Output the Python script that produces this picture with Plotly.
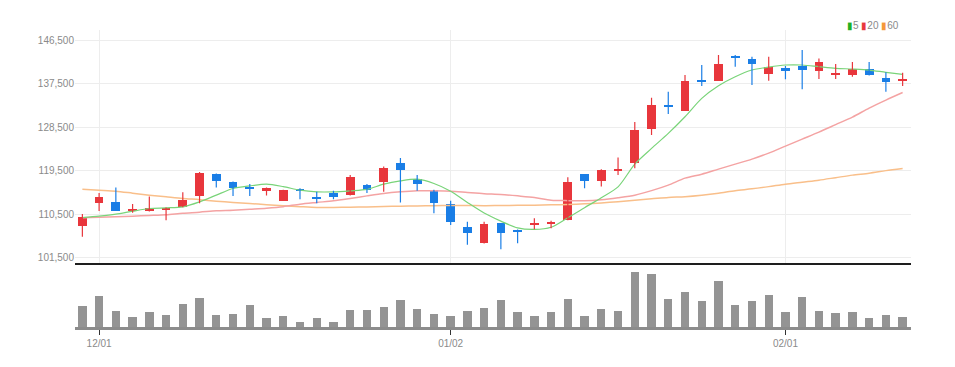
import plotly.graph_objects as go

dates = [
    "2022-11-30", "2022-12-01", "2022-12-02",
    "2022-12-05", "2022-12-06", "2022-12-07", "2022-12-08", "2022-12-09",
    "2022-12-12", "2022-12-13", "2022-12-14", "2022-12-15", "2022-12-16",
    "2022-12-19", "2022-12-20", "2022-12-21", "2022-12-22", "2022-12-23",
    "2022-12-26", "2022-12-27", "2022-12-28", "2022-12-29",
    "2023-01-02", "2023-01-03", "2023-01-04", "2023-01-05", "2023-01-06",
    "2023-01-09", "2023-01-10", "2023-01-11", "2023-01-12", "2023-01-13",
    "2023-01-16", "2023-01-17", "2023-01-18", "2023-01-19", "2023-01-20",
    "2023-01-25", "2023-01-26", "2023-01-27", "2023-01-30", "2023-01-31",
    "2023-02-01", "2023-02-02", "2023-02-03",
    "2023-02-06", "2023-02-07", "2023-02-08", "2023-02-09", "2023-02-10",
]

open_ = [108200, 112800, 113150, 111400, 111200, 111350, 112050, 114400, 118900, 117100,
         116250, 115400, 113350, 115850, 114200, 115000, 114550, 116600, 117300, 121100,
         117800, 115550, 112650, 107850, 104550, 108650, 107300, 108400, 108600, 109350,
         118800, 117500, 119500, 121100, 128250, 133200, 131950, 138300, 138150, 143250,
         142650, 139450, 140700, 141200, 140150, 139250, 139250, 140500, 138650, 138150]
high = [110600, 114900, 116050, 112650, 114200, 111950, 115100, 119250, 118950, 117300,
        116800, 116050, 115600, 115900, 115200, 115400, 118650, 116800, 120400, 122150,
        118650, 115600, 113300, 109000, 109000, 108700, 107350, 109700, 109200, 118200,
        118850, 119850, 122250, 129600, 134600, 135850, 139300, 141400, 143450, 143450,
        143100, 143100, 141200, 144500, 142750, 141600, 142000, 142000, 139900, 139800]
low = [105900, 111200, 111200, 110850, 111100, 109300, 112000, 112800, 116050, 114300,
       114300, 114400, 113300, 113650, 112800, 113650, 114400, 114900, 115200, 112950,
       115400, 110750, 108300, 104200, 104500, 103300, 104550, 107450, 107650, 109300,
       115900, 116250, 118650, 120050, 126900, 131250, 131900, 137050, 138100, 141050,
       137250, 138150, 138450, 136400, 138500, 138500, 138950, 139200, 135850, 137050]
close = [110000, 114000, 111250, 111700, 111900, 111800, 113500, 119000, 117500, 116050,
         115700, 115900, 115500, 115400, 113850, 114050, 118200, 115550, 120050, 119700,
         116750, 112800, 109000, 106750, 108550, 106750, 106950, 108800, 109000, 117300,
         117450, 119700, 119900, 127850, 133100, 132850, 138150, 137950, 141600, 142900,
         141600, 141050, 140350, 140350, 142050, 139750, 140500, 139250, 137850, 138500]

volume = [210000, 310000, 160000, 97000, 144000, 114000, 230000, 284000, 117000, 130000,
          214000, 84000, 110000, 50000, 84000, 50000, 164000, 164000, 197000, 267000,
          177000, 127000, 107000, 160000, 184000, 264000, 144000, 107000, 150000, 277000,
          107000, 180000, 160000, 550000, 527000, 277000, 347000, 260000, 460000, 214000,
          260000, 317000, 150000, 294000, 160000, 134000, 150000, 90000, 117000, 97000]

ma5 = [109850, 110130, 110540, 111160, 111720, 111850, 112050, 113090, 114480, 115860,
       116400, 116750, 116240, 115510, 115160, 115160, 115370, 115660, 116750, 117440,
       117790, 116900, 115300, 112970, 110790, 109100, 107710, 107400, 107850, 109820,
       111890, 113960, 116200, 120890, 124140, 127250, 130690, 134490, 137100, 138970,
       140350, 140970, 141390, 141390, 141040, 140700, 140560, 140350, 139880, 139460]
ma20 = [109820, 109920, 110030, 110130, 110280, 110440, 110750, 110960, 111230, 111370,
        111580, 111790, 112100, 112610, 112970, 113300, 113790, 114330, 114830, 115160,
        115370, 115370, 115300, 115040, 114790, 114620, 114330, 114000, 113440, 113340,
        113340, 113550, 113960, 114480, 115410, 116550, 118000, 118820, 119860, 120890,
        121930, 123170, 124620, 126070, 127520, 129070, 130620, 132490, 134140, 135700]
ma60 = [115720, 115510, 115300, 114890, 114480, 114130, 113790, 113550, 113240, 112970,
        112760, 112510, 112300, 112100, 111930, 111930, 111990, 112050, 112140, 112200,
        112260, 112300, 112350, 112350, 112300, 112350, 112370, 112410, 112470, 112550,
        112680, 112880, 113130, 113440, 113710, 114000, 114170, 114480, 114890, 115410,
        115780, 116240, 116750, 117170, 117580, 118100, 118620, 119030, 119550, 120000]

price_ticks = [101500, 110500, 119500, 128500, 137500, 146500]
date_ticks = ["2022-12-01", "2023-01-02", "2023-02-01"]
date_tick_text = ["12/01", "01/02", "02/01"]

UP = "#e8363c"
DOWN = "#1a7ee6"

fig = go.Figure()

# moving averages
for vals, col, w in [(ma60, "#f9bf8a", 1.5), (ma20, "#f4a3a3", 1.5), (ma5, "#79d479", 1.2)]:
    fig.add_trace(go.Scatter(x=dates, y=vals, mode="lines",
                             line=dict(color=col, width=w, shape="spline", smoothing=0.8),
                             xaxis="x", yaxis="y", hoverinfo="skip"))

# wicks
for up in (True, False):
    wx, wy = [], []
    for d, o, h, l, c in zip(dates, open_, high, low, close):
        if (c >= o) == up:
            wx += [d, d, None]
            wy += [l, h, None]
    fig.add_trace(go.Scatter(x=wx, y=wy, mode="lines",
                             line=dict(color=UP if up else DOWN, width=1.2),
                             xaxis="x", yaxis="y", hoverinfo="skip"))

# bodies
base = [min(o, c) for o, c in zip(open_, close)]
height = [max(abs(c - o), 250) for o, c in zip(open_, close)]
colors = [UP if c >= o else DOWN for o, c in zip(open_, close)]
fig.add_trace(go.Bar(x=dates, y=height, base=base, width=0.52,
                     marker=dict(color=colors, line=dict(width=0)),
                     xaxis="x", yaxis="y"))

# volume
fig.add_trace(go.Bar(x=dates, y=volume, width=0.5,
                     marker=dict(color="#949494", line=dict(width=0)),
                     xaxis="x2", yaxis="y2"))

font_family = "Liberation Sans, Arial, sans-serif"

# the page body keeps the browser's default 8px margin, so the figure is
# sized 8px smaller and its margins are shifted accordingly
fig.update_layout(
    width=947, height=359,
    margin=dict(l=67, r=44, t=22, b=40, autoexpand=False),
    paper_bgcolor="white", plot_bgcolor="white",
    showlegend=False, barmode="overlay", bargap=0,
    font=dict(family=font_family, color="#8a8a8a", size=10),
    xaxis=dict(type="category", categoryorder="array", categoryarray=dates,
               range=[-0.44, 49.5], domain=[0, 1], anchor="y",
               showline=True, linecolor="#1e1e1e", linewidth=2,
               showgrid=True, gridcolor="#ededed", gridwidth=1,
               tickvals=date_ticks, showticklabels=False, ticks="",
               zeroline=False),
    yaxis=dict(domain=[0.2147, 1], range=[100400, 148630],
               tickvals=price_ticks, tickformat=",d",
               showgrid=True, gridcolor="#ededed", gridwidth=1,
               zeroline=False, showline=False, ticks="", automargin=False,
               tickfont=dict(size=10, color="#8a8a8a")),
    xaxis2=dict(type="category", categoryorder="array", categoryarray=dates,
                range=[-0.44, 49.5], domain=[0, 1], anchor="y2",
                showline=True, linecolor="#8c8c8c", linewidth=3,
                showgrid=False, ticks="outside", ticklen=5, tickwidth=1,
                tickcolor="#333333", tickvals=date_ticks, ticktext=date_tick_text,
                tickfont=dict(size=10, color="#8a8a8a"), zeroline=False,
                automargin=False),
    yaxis2=dict(domain=[0, 0.2046], range=[0, 607000], visible=False,
                showgrid=False, zeroline=False),
    annotations=[dict(
        xref="paper", yref="paper", x=0.9885, y=1.016, xanchor="right", yanchor="middle",
        showarrow=False,
        text=("<span style='color:#22b022'>▮</span>5 "
              "<span style='color:#e8383d'>▮</span>20 "
              "<span style='color:#f5983a'>▮</span>60"),
        font=dict(size=10, color="#8a8a8a", family=font_family),
    )],
)

fig.write_html("out.html")
